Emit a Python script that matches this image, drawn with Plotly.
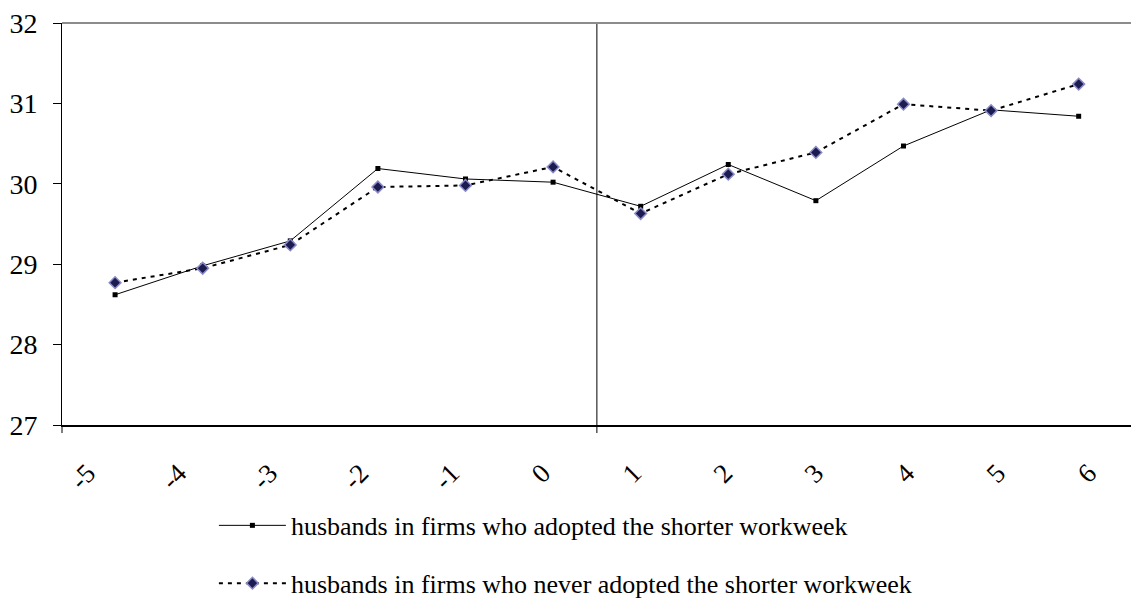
import plotly.graph_objects as go

periods = [-5, -4, -3, -2, -1, 0, 1, 2, 3, 4, 5, 6]
tick_labels = [str(p) for p in periods]
adopted = [28.62, 28.98, 29.29, 30.19, 30.06, 30.02, 29.72, 30.24, 29.79, 30.47, 30.92, 30.84]
never = [28.77, 28.95, 29.24, 29.96, 29.98, 30.21, 29.63, 30.12, 30.39, 30.99, 30.91, 31.24]
series_names = [
    "husbands in firms who adopted the shorter workweek",
    "husbands in firms who never adopted the shorter workweek",
]
boundary = 0.5

FONT = "Liberation Serif, Times New Roman, Times, serif"

fig = go.Figure()
fig.add_trace(go.Scatter(
    x=periods, y=adopted, name=series_names[0], mode="lines+markers",
    line=dict(color="black", width=1),
    marker=dict(symbol="square", size=5, color="black"),
    legendgroup="a",
))
fig.add_trace(go.Scatter(
    x=periods, y=never, name=series_names[1], mode="lines+markers",
    line=dict(color="black", width=2, dash="4px,5px"),
    marker=dict(symbol="diamond", size=9, color="#1c1c50",
                line=dict(color="#8a8ac8", width=1.5)),
    legendgroup="b",
))
# invisible trace on the label axis
fig.add_trace(go.Scatter(x=periods, y=[None]*len(periods), xaxis="x2",
                         showlegend=False, hoverinfo="skip"))

fig.update_layout(
    width=1139, height=598,
    margin=dict(l=54, r=0, t=15, b=181, autoexpand=False),
    paper_bgcolor="white", plot_bgcolor="white",
    font=dict(family=FONT, color="black", size=26),
    showlegend=True,
    legend=dict(x=0.140, xanchor="left", xref="paper",
                y=0.174, yanchor="top", yref="container",
                traceorder="grouped", tracegroupgap=21,
                font=dict(family=FONT, size=26), itemwidth=67,
                bgcolor="rgba(0,0,0,0)"),
    xaxis=dict(range=[-5.606, 6.780], showgrid=False, zeroline=False,
               showline=True, linecolor="black", linewidth=1.5,
               showticklabels=False, ticks=""),
    xaxis2=dict(overlaying="x", side="bottom", range=[-5.5, 6.423],
                tickmode="array", tickvals=periods, ticktext=tick_labels,
                tickangle=-45, ticks="", showgrid=False, zeroline=False,
                showline=False, ticklabelstandoff=26, ticklabelshift=-20,
                ticklabeloverflow="allow",
                tickfont=dict(family=FONT, size=27, color="black")),
    yaxis=dict(range=[27, 32], dtick=1, showgrid=False, zeroline=False,
               showline=True, linecolor="black", linewidth=1,
               ticks="outside", ticklen=8, tickcolor="black", tickwidth=1,
               ticklabelstandoff=10, ticklabeloverflow="allow",
               tickfont=dict(family=FONT, size=28, color="black")),
)

fig.add_shape(type="line", xref="x", yref="paper", x0=boundary, x1=boundary,
              y0=-0.02, y1=1, line=dict(color="black", width=1))
fig.add_shape(type="line", xref="paper", yref="paper", x0=0, x1=0,
              y0=-0.02, y1=0, line=dict(color="black", width=1))
fig.add_shape(type="line", xref="paper", yref="paper", x0=0, x1=1,
              y0=1, y1=1, line=dict(color="#8c8c8c", width=2))

fig.write_html("out.html")
